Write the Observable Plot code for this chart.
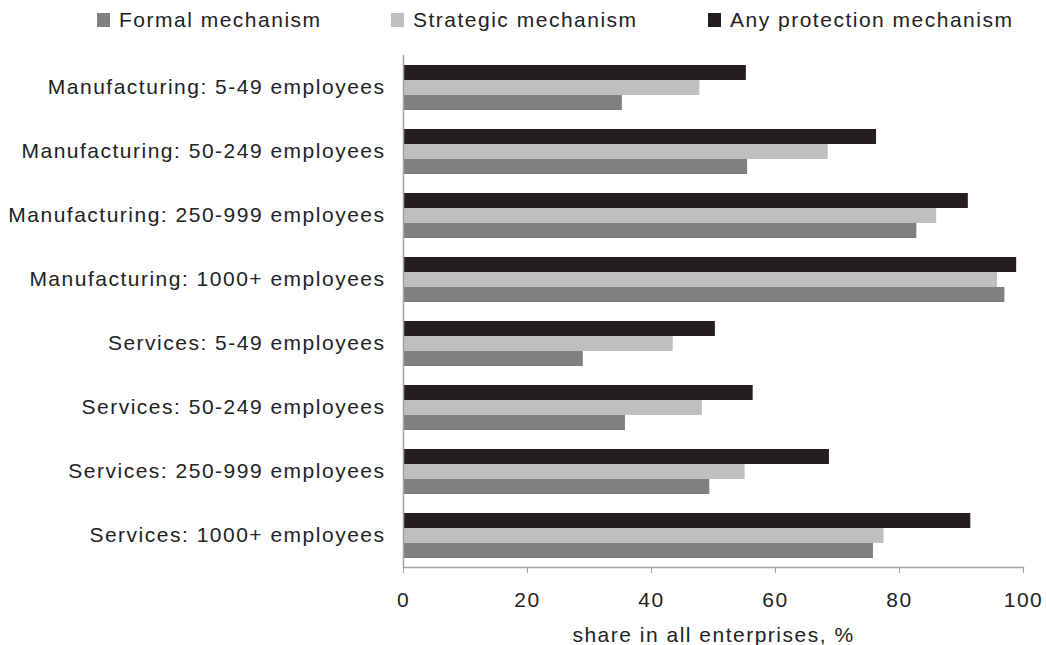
<!DOCTYPE html>
<html>
<head>
<meta charset="utf-8">
<script src="https://cdn.jsdelivr.net/npm/d3@7"></script>
<script src="https://cdn.jsdelivr.net/npm/@observablehq/plot@0.6"></script>
<style>
  html, body { margin: 0; padding: 0; background: #fff; }
  body { width: 1046px; height: 645px; overflow: hidden; font-family: "Liberation Sans", Arial, sans-serif; }
  #legend { position: relative; height: 40px; font-size: 21px; letter-spacing: 1.5px; color: #222; }
  .item { position: absolute; top: 8px; display: flex; align-items: center; white-space: nowrap; }
  .sw { width: 13px; height: 14px; margin-right: 9px; }
  #chart svg { display: block; }
</style>
</head>
<body>
<div id="legend"></div>
<div id="chart"></div>
<script>
const categories = [
  "Manufacturing: 5-49 employees",
  "Manufacturing: 50-249 employees",
  "Manufacturing: 250-999 employees",
  "Manufacturing: 1000+ employees",
  "Services: 5-49 employees",
  "Services: 50-249 employees",
  "Services: 250-999 employees",
  "Services: 1000+ employees"
];
const seriesNames = ["Any protection mechanism", "Strategic mechanism", "Formal mechanism"];
const legendOrder = ["Formal mechanism", "Strategic mechanism", "Any protection mechanism"];
const anyValues = [55.3, 76.3, 91.1, 98.9, 50.3, 56.4, 68.7, 91.5];
const strategicValues = [47.8, 68.5, 86.0, 95.8, 43.5, 48.2, 55.1, 77.5];
const formalValues = [35.3, 55.5, 82.8, 97.0, 29.0, 35.8, 49.4, 75.8];
const xTicks = [0, 20, 40, 60, 80, 100];
const colors = {"Any protection mechanism": "#231f20", "Strategic mechanism": "#bfbfbf", "Formal mechanism": "#808080"};

const valuesBySeries = {
  "Any protection mechanism": anyValues,
  "Strategic mechanism": strategicValues,
  "Formal mechanism": formalValues
};
const data = [];
categories.forEach((c, i) => {
  seriesNames.forEach(s => data.push({category: c, series: s, value: valuesBySeries[s][i]}));
});

// legend
const legend = document.getElementById("legend");
const legendLeft = [97, 391, 708];
legendOrder.forEach((s, i) => {
  const it = document.createElement("div");
  it.className = "item";
  it.style.left = legendLeft[i] + "px";
  const sw = document.createElement("span");
  sw.className = "sw";
  sw.style.background = colors[s];
  const t = document.createElement("span");
  t.textContent = s;
  it.appendChild(sw); it.appendChild(t);
  legend.appendChild(it);
});

const chart = Plot.plot({
  width: 1046,
  height: 605,
  marginTop: 15,
  marginBottom: 78,
  marginLeft: 403,
  marginRight: 23,
  style: {fontFamily: "'Liberation Sans', Arial, sans-serif", fontSize: "21px", letterSpacing: "1.5px", color: "#222", background: "#fff"},
  x: {domain: [0, 100]},
  y: {domain: seriesNames, axis: null, paddingInner: 0, paddingOuter: 0.63},
  fy: {domain: categories, padding: 0},
  color: {domain: seriesNames, range: seriesNames.map(s => colors[s])},
  marks: [
    Plot.barX(data, {x: "value", y: "series", fy: "category", fill: "series"}),
    Plot.ruleX([0], {stroke: "#a0a0a0", strokeWidth: 1.5}),
    Plot.frame({anchor: "bottom", facetAnchor: "bottom", stroke: "#a0a0a0", strokeWidth: 1.5}),
    Plot.axisX({ticks: xTicks, tickSize: 6, tickPadding: 19, stroke: "#a0a0a0", fill: "#222",
      label: "share in all enterprises, %", labelAnchor: "center", labelArrow: "none", labelOffset: 74}),
    Plot.axisFy({anchor: "left", tickSize: 0, tickPadding: 18, label: null, fill: "#222"})
  ]
});
document.getElementById("chart").appendChild(chart);
</script>
</body>
</html>
